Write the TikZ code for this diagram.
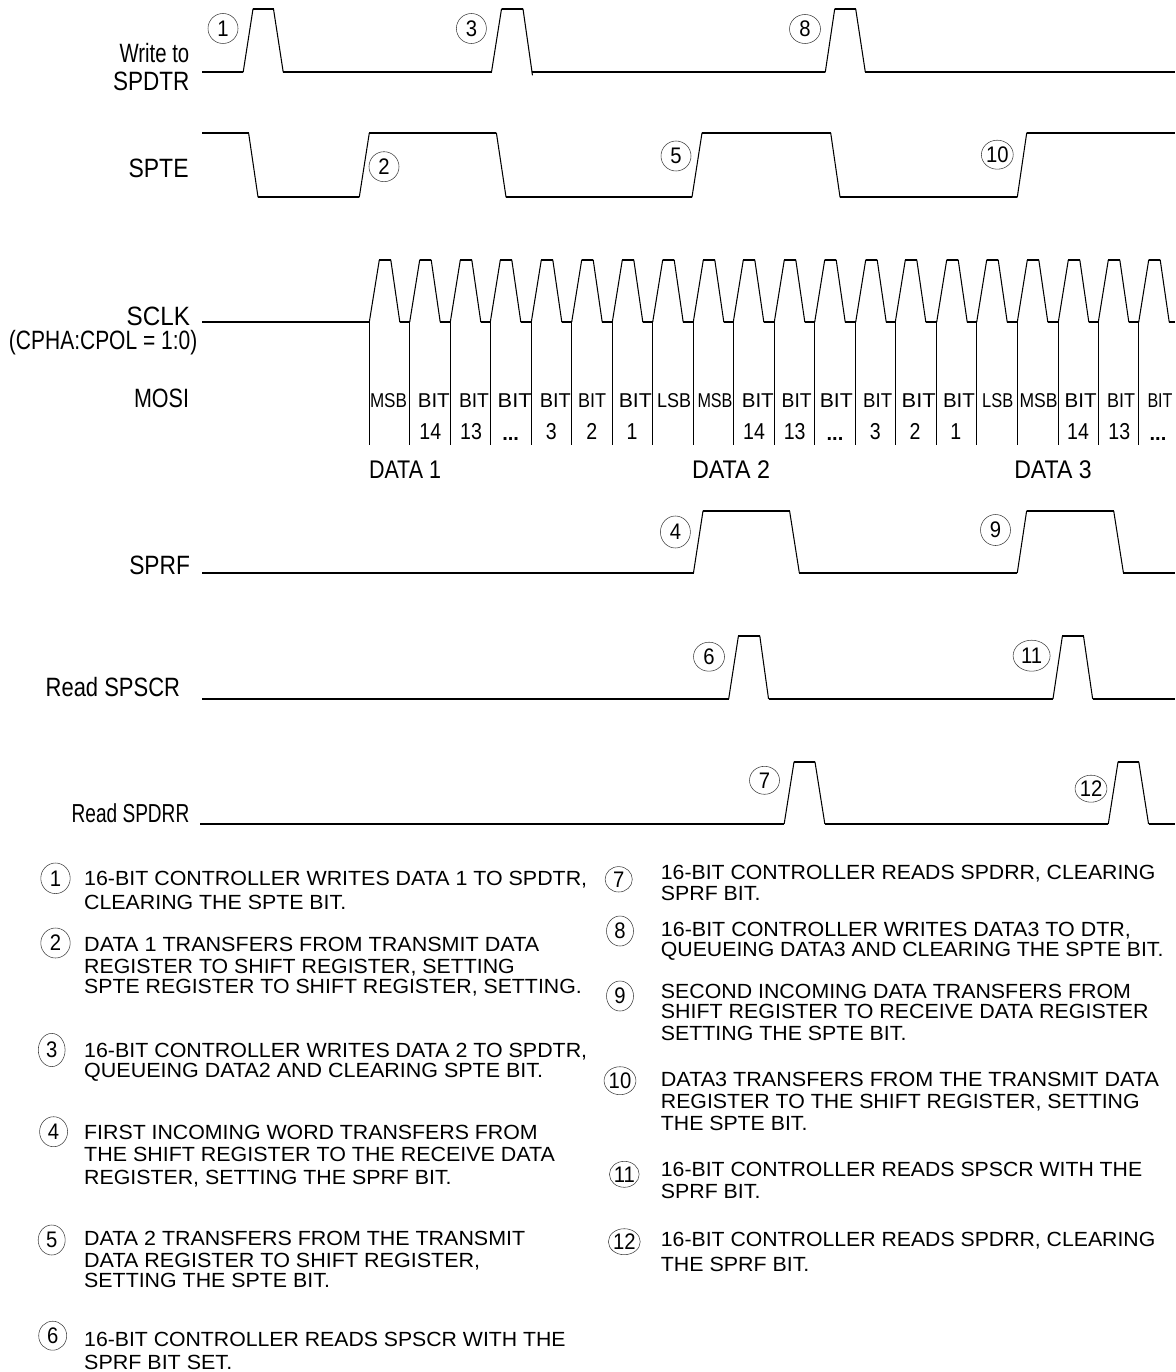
\documentclass[tikz,border=0pt]{standalone}
\usepackage{fontspec}
\usepackage{graphicx}
\setmainfont{Liberation Sans}
\usetikzlibrary{shapes.geometric}
\tikzset{
  level/.style={line width=1.6pt,line cap=butt},
  edgeline/.style={line width=1.05pt,line cap=round},
  tick/.style={line width=1pt},
  txt/.style={anchor=base west,inner sep=0pt,outer sep=0pt,text=black},
  ctxt/.style={anchor=base,inner sep=0pt,outer sep=0pt,text=black},
  num/.style={draw=black!75,line width=0.55pt,ellipse,inner sep=0pt,text=black}
}
% left x, baseline y, width, size, text
\newcommand\lab[6]{\node[txt] (#1) at (#2,#3) {\resizebox{#4pt}{\height}{\fontsize{#5}{#5}\selectfont #6}};}
% legend line: name, x, baseline, width, text
\newcommand\leg[5]{\lab{#1}{#2}{#3}{#4}{20.5}{#5}}
% circled number: name, x, y, rx, ry, digit
\newcommand\cnum[6]{\node[num,minimum width=#4*2pt,minimum height=#5*2pt] (#1) at (#2,#3) {\scalebox{0.9}[1]{\fontsize{22.5}{22.5}\selectfont #6}};}
% pulse: low y, high y, x1..x4
\newcommand\pulse[6]{\draw[edgeline] (#3,#1)--(#4,#2);\draw[level] (#4,#2)--(#5,#2);\draw[edgeline] (#5,#2)--(#6,#1);}
\newcommand\dip[6]{\draw[edgeline] (#3,#2)--(#4,#1);\draw[level] (#4,#1)--(#5,#1);\draw[edgeline] (#5,#1)--(#6,#2);}
\begin{document}
\begin{tikzpicture}[x=1pt,y=-1pt]
\useasboundingbox (0,0) rectangle (1175,1372);
% ---- Write to SPDTR
\draw[level] (202,72)--(243.2,72);
\pulse{72}{9}{243.2}{253}{273.5}{283.2}
\draw[level] (283.2,72)--(491.5,72);
\pulse{72}{9}{491.5}{501.5}{523}{532}
\draw[edgeline] (532,72)--(532.4,75);
\draw[level] (532,72)--(825.3,72);
\pulse{72}{9}{825.3}{834.7}{855.7}{865.3}
\draw[level] (865.3,72)--(1175,72);
% ---- SPTE
\draw[level] (202,133)--(248.6,133);
\dip{197}{133}{248.6}{258}{359.3}{369.3}
\draw[level] (369.3,133)--(496.4,133);
\dip{197}{133}{496.4}{506}{692}{702}
\draw[level] (702,133)--(830.7,133);
\dip{197}{133}{830.7}{840}{1017.3}{1026.7}
\draw[level] (1026.7,133)--(1175,133);
% ---- SCLK
\draw[level] (202,322)--(369.3,322);
\foreach \b/\n in {369.3/409.7,409.7/450.3,450.3/490.3,490.3/531.3,531.3/571.7,571.7/612.3,612.3/652.7,652.7/693.3,693.3/733.3,733.3/774.3,774.3/814.7,814.7/855.7,855.7/895.3,895.3/936.7,936.7/976.7,976.7/1017.3,1017.3/1058.3,1058.3/1098.3,1098.3/1138.7,1138.7/1175}{
  \draw[edgeline] (\b,322)--(\b+10,260);
  \draw[level] (\b+10,260)--(\b+21.5,260);
  \draw[edgeline] (\b+21.5,260)--(\b+30.5,322);
  \draw[level] (\b+30.5,322)--(\n,322);
}
\foreach \b in {369.3,409.7,450.3,490.3,531.3,571.7,612.3,652.7,693.3,733.3,774.3,814.7,855.7,895.3,936.7,976.7,1017.3,1058.3,1098.3,1138.7}{
  \draw[tick] (\b,322)--(\b,444.5);
}
% ---- SPRF
\draw[level] (202,572.7)--(693.5,572.7);
\pulse{572.7}{511}{693.5}{703}{789.6}{799.3}
\draw[level] (799.3,572.7)--(1017.3,572.7);
\pulse{572.7}{511}{1017.3}{1026.6}{1113.7}{1123.4}
\draw[level] (1123.4,572.7)--(1175,572.7);
% ---- Read SPSCR
\draw[level] (202,698.7)--(728.7,698.7);
\pulse{698.7}{636}{728.7}{738.4}{759.8}{768.5}
\draw[level] (768.5,698.7)--(1053,698.7);
\pulse{698.7}{636}{1053}{1062.4}{1083.5}{1092.6}
\draw[level] (1092.6,698.7)--(1175,698.7);
% ---- Read SPDRR
\draw[level] (200,823.7)--(784.2,823.7);
\pulse{823.7}{762}{784.2}{794}{815}{824.8}
\draw[level] (824.8,823.7)--(1108.3,823.7);
\pulse{823.7}{762}{1108.3}{1118}{1138.8}{1148.5}
\draw[level] (1148.5,823.7)--(1175,823.7);
% ---- signal names
\lab{lwrite}{119.6}{62.7}{69.7}{26.5}{Write to}
\lab{lspdtr}{113}{90.7}{76.3}{26.5}{SPDTR}
\lab{lspte}{128.6}{177.7}{60}{26.5}{SPTE}
\lab{lsclk}{126.7}{325}{63.3}{26.5}{SCLK}
\lab{lcpha}{9}{349.3}{188.3}{26.5}{(CPHA:CPOL = 1:0)}
\lab{lmosi}{134}{407.3}{55}{26.5}{MOSI}
\lab{lsprf}{129.3}{574.3}{60.7}{26.5}{SPRF}
\lab{lscr}{45.7}{696.7}{134.3}{26.5}{Read SPSCR}
\lab{ldrr}{71.7}{822.7}{117.6}{26}{Read SPDRR}
% ---- bit labels
\foreach \c/\w/\t [count=\i] in {388.5/37/MSB,433.8/32/BIT,474/30/BIT,514.7/34/BIT,555.3/31/BIT,592/28/BIT,635.3/33/BIT,674/34/LSB,715/35/MSB,757.8/32/BIT,796.7/30/BIT,836.3/33/BIT,877.7/29/BIT,918.7/34/BIT,959/32/BIT,997.7/31/LSB,1038.5/38/MSB,1080.7/32/BIT,1121/28/BIT,1160/25/BIT}{
  \node[ctxt] (b\i) at (\c,407.7) {\resizebox{\w pt}{\height}{\fontsize{20}{20}\selectfont \t}};
}
\foreach \c/\t [count=\i] in {430.3/14,471/13,551.3/3,591.7/2,632/1,754/14,794.7/13,875.3/3,915/2,955.8/1,1078/14,1119.3/13}{
  \node[ctxt] (n\i) at (\c,439.3) {\scalebox{0.85}[1]{\fontsize{23}{23}\selectfont \t}};
}
\foreach \c [count=\i] in {510.7,835,1158}{
  \node[ctxt] (d\i) at (\c,440.5) {\fontsize{20}{20}\selectfont\bfseries ...};
}
\lab{dataa}{369}{478}{72}{25.5}{DATA 1}
\lab{datab}{692}{478}{78}{25.5}{DATA 2}
\lab{datac}{1014.3}{478}{77.4}{25.5}{DATA 3}
% ---- circled numbers on the waveforms
\cnum{c1}{223}{28.5}{15}{15}{1}
\cnum{c3}{471.4}{28.5}{15}{15}{3}
\cnum{c8}{805}{29}{15.5}{14.5}{8}
\cnum{c2}{384}{166.7}{15}{15}{2}
\cnum{c5}{676}{156}{15}{15}{5}
\cnum{c10}{997.3}{154.7}{15.5}{14.5}{10}
\cnum{c4}{675.4}{532}{15}{16}{4}
\cnum{c9}{995.5}{530}{15}{15.5}{9}
\cnum{c6}{709}{656.7}{15.5}{14.5}{6}
\cnum{c11}{1031.6}{655.7}{18.5}{15.5}{11}
\cnum{c7}{764.5}{780.3}{15}{14}{7}
\cnum{c12}{1091}{788.7}{15}{13.5}{12}
% ---- legend circles
\cnum{k1}{55.5}{878.3}{14.7}{15.3}{1}
\cnum{k2}{55.5}{943}{14.7}{15}{2}
\cnum{k3}{51.7}{1050}{13.4}{16.6}{3}
\cnum{k4}{53.6}{1131.7}{14}{15}{4}
\cnum{k5}{51.7}{1240}{13.5}{15}{5}
\cnum{k6}{52.7}{1335.7}{14}{14.5}{6}
\cnum{k7}{618.7}{879.3}{13.6}{12.7}{7}
\cnum{k8}{620}{931}{13.5}{15}{8}
\cnum{k9}{620}{996}{13.5}{15}{9}
\cnum{k10}{620}{1080.7}{13}{14}{10}
\cnum{k11}{624.3}{1174.3}{13}{13}{11}
\cnum{k12}{624.3}{1241.7}{13}{13}{12}
% ---- legend, left column
\leg{a1}{84.2}{885}{503}{16-BIT CONTROLLER WRITES DATA 1 TO SPDTR,}
\leg{a2}{84.2}{909.3}{262}{CLEARING THE SPTE BIT.}
\leg{a3}{84.2}{951}{455}{DATA 1 TRANSFERS FROM TRANSMIT DATA}
\leg{a4}{84.2}{973}{430.5}{REGISTER TO SHIFT REGISTER, SETTING}
\leg{a5}{84.2}{993.7}{497.5}{SPTE REGISTER TO SHIFT REGISTER, SETTING.}
\leg{a6}{84.2}{1057.3}{503}{16-BIT CONTROLLER WRITES DATA 2 TO SPDTR,}
\leg{a7}{84.2}{1077}{459}{QUEUEING DATA2 AND CLEARING SPTE BIT.}
\leg{a8}{84.2}{1139.3}{453.5}{FIRST INCOMING WORD TRANSFERS FROM}
\leg{a9}{84.2}{1161.3}{470.7}{THE SHIFT REGISTER TO THE RECEIVE DATA}
\leg{a10}{84.2}{1184}{367.4}{REGISTER, SETTING THE SPRF BIT.}
\leg{a11}{84.2}{1245}{441}{DATA 2 TRANSFERS FROM THE TRANSMIT}
\leg{a12}{84.2}{1267.3}{396}{DATA REGISTER TO SHIFT REGISTER,}
\leg{a13}{84.2}{1287}{245.7}{SETTING THE SPTE BIT.}
\leg{a14}{84.2}{1346.3}{481.4}{16-BIT CONTROLLER READS SPSCR WITH THE}
\leg{a15}{84.2}{1369.3}{148}{SPRF BIT SET.}
% ---- legend, right column
\leg{r1}{660.9}{879.3}{494.4}{16-BIT CONTROLLER READS SPDRR, CLEARING}
\leg{r2}{660.9}{900}{99.6}{SPRF BIT.}
\leg{r3}{660.9}{936}{470}{16-BIT CONTROLLER WRITES DATA3 TO DTR,}
\leg{r4}{660.9}{956}{502.6}{QUEUEING DATA3 AND CLEARING THE SPTE BIT.}
\leg{r5}{660.9}{998.3}{470}{SECOND INCOMING DATA TRANSFERS FROM}
\leg{r6}{660.9}{1018.3}{487.7}{SHIFT REGISTER TO RECEIVE DATA REGISTER}
\leg{r7}{660.9}{1040.7}{245.5}{SETTING THE SPTE BIT.}
\leg{r8}{660.9}{1086.7}{498}{DATA3 TRANSFERS FROM THE TRANSMIT DATA}
\leg{r9}{660.9}{1108.3}{478.7}{REGISTER TO THE SHIFT REGISTER, SETTING}
\leg{r10}{660.9}{1130.7}{146.6}{THE SPTE BIT.}
\leg{r11}{660.9}{1176.7}{481.3}{16-BIT CONTROLLER READS SPSCR WITH THE}
\leg{r12}{660.9}{1198.3}{99.6}{SPRF BIT.}
\leg{r13}{660.9}{1246}{494.4}{16-BIT CONTROLLER READS SPDRR, CLEARING}
\leg{r14}{660.9}{1271.7}{148.5}{THE SPRF BIT.}
\end{tikzpicture}
\end{document}
